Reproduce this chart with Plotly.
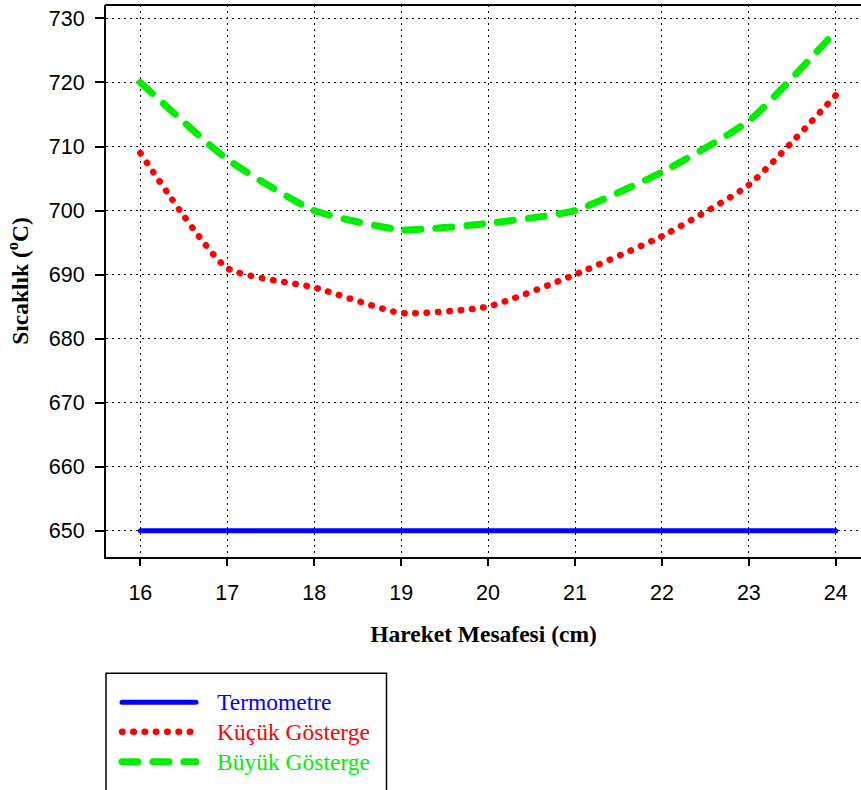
import plotly.graph_objects as go

# Data
distance_cm = [16, 17, 18, 19, 20, 21, 22, 23, 24]
termometre = [650, 650, 650, 650, 650, 650, 650, 650, 650]
kucuk_gosterge = [709, 691, 688, 684, 685, 690, 696, 704, 718]
buyuk_gosterge = [720, 708, 700, 697, 698, 700, 706, 714, 728]
series_names = ["Termometre", "Küçük Gösterge", "Büyük Gösterge"]
series_colors = ["#0000ff", "#ff0000", "#00ee00"]
y_ticks = [650, 660, 670, 680, 690, 700, 710, 720, 730]
x_ticks = distance_cm

W, H = 861, 790
L, R, T, B = 106, 0, 5, 233
pw, ph = W - L - R, H - T - B

def px(xp):
    return (xp - L) / pw

def py(yp):
    return (H - B - yp) / ph

# round caps are applied below, so dashes are shortened by the cap width
dashes = ["solid", "0.5px,10.8px", "16px,15px"]
widths = [5, 6.5, 7]

fig = go.Figure()
for name, vals, col, d, w in zip(series_names, [termometre, kucuk_gosterge, buyuk_gosterge],
                                 series_colors, dashes, widths):
    fig.add_trace(go.Scatter(
        x=distance_cm, y=vals, mode="lines", name=name,
        line=dict(color=col, width=w, dash=d, shape="spline", smoothing=0.5),
        showlegend=False,
    ))

tick_font = dict(family="Liberation Sans, Arial, sans-serif", size=21.5, color="black")
title_font = dict(family="Liberation Serif, Times New Roman, serif", size=23.5, color="black")

fig.update_layout(
    width=W, height=H,
    margin=dict(l=L, r=R, t=T, b=B, autoexpand=False),
    paper_bgcolor="white", plot_bgcolor="white",
    showlegend=False,
    xaxis=dict(
        range=[15.605, 24.29], tickvals=x_ticks, ticktext=[str(v) for v in x_ticks],
        showgrid=True, gridcolor="black", gridwidth=1, griddash="1.5px,4.5px",
        zeroline=False, showline=True, linecolor="black", linewidth=2,
        ticks="outside", ticklen=7, tickwidth=2, tickcolor="black",
        tickfont=tick_font, ticklabelstandoff=8, automargin=False,
        title=dict(text="<b>Hareket Mesafesi (cm)</b>", font=title_font, standoff=22),
    ),
    yaxis=dict(
        range=[645.9, 732.1], tickvals=y_ticks, ticktext=[str(v) for v in y_ticks],
        showgrid=True, gridcolor="black", gridwidth=1, griddash="1.5px,4.5px",
        zeroline=False, showline=True, linecolor="black", linewidth=2,
        ticks="outside", ticklen=9, tickwidth=2, tickcolor="black",
        tickfont=tick_font, ticklabelstandoff=6, automargin=False,
        title=dict(text="<b>Sıcaklık (<sup>o</sup>C)</b>", font=title_font, standoff=14),
    ),
)

shapes = []
# top frame line
shapes.append(dict(type="line", xref="paper", yref="paper", x0=0, x1=1, y0=1, y1=1,
                   line=dict(color="black", width=2)))
# legend box
shapes.append(dict(type="rect", xref="paper", yref="paper",
                   x0=px(106), x1=px(386.5), y0=py(673.3), y1=py(810),
                   line=dict(color="black", width=1.5), fillcolor="rgba(0,0,0,0)"))
row_y = [702.3, 731.7, 761.7]
annotations = []
for name, col, d, w, ry in zip(series_names, series_colors, dashes, widths, row_y):
    shapes.append(dict(type="line", xref="paper", yref="paper",
                       x0=px(122), x1=px(196), y0=py(ry), y1=py(ry),
                       line=dict(color=col, width=w, dash=d)))
    annotations.append(dict(xref="paper", yref="paper", x=px(215), y=py(ry),
                            xanchor="left", yanchor="middle", showarrow=False,
                            text=name,
                            font=dict(family="Liberation Serif, Times New Roman, serif",
                                      size=23.5, color=col)))
fig.update_layout(shapes=shapes, annotations=annotations)

post = """
document.body.style.margin='0';
document.body.style.overflow='hidden';
document.querySelectorAll('.scatterlayer .js-line, .shapelayer path').forEach(function(p){
  p.style.strokeLinecap='round';
});
"""
fig.write_html("out.html", config={"displayModeBar": False}, post_script=post)
